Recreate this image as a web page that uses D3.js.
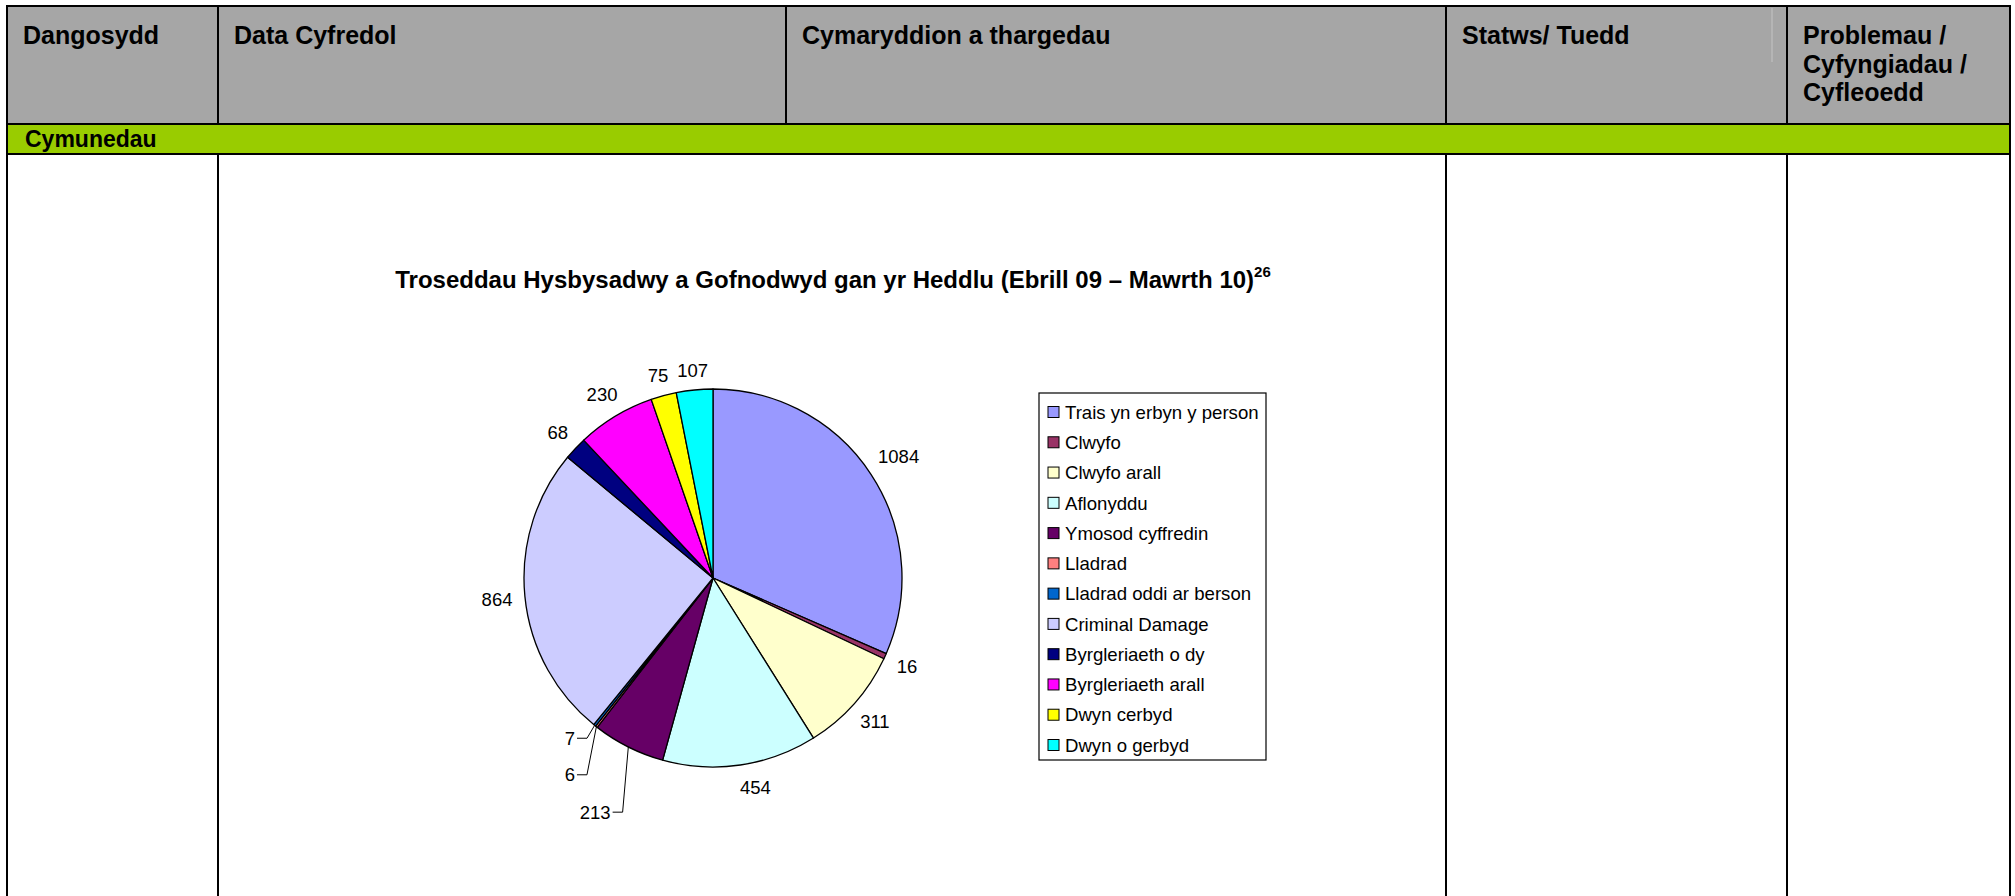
<!DOCTYPE html>
<html>
<head>
<meta charset="utf-8">
<script src="https://cdn.jsdelivr.net/npm/d3@7"></script>
<style>
  body { margin: 0; background: #fff; }
  text { font-family: "Liberation Sans", Arial, sans-serif; }
</style>
</head>
<body>
<div id="page"></div>
<script>
// table headings
var headers = [["Dangosydd"], ["Data Cyfredol"], ["Cymaryddion a thargedau"], ["Statws/ Tuedd"], ["Problemau /", "Cyfyngiadau /", "Cyfleoedd"]]
var section = "Cymunedau"

// chart data
var title = "Troseddau Hysbysadwy a Gofnodwyd gan yr Heddlu (Ebrill 09 – Mawrth 10)"
var footnote = "26"
var categories = ["Trais yn erbyn y person", "Clwyfo", "Clwyfo arall", "Aflonyddu", "Ymosod cyffredin", "Lladrad",
    "Lladrad oddi ar berson", "Criminal Damage", "Byrgleriaeth o dy", "Byrgleriaeth arall", "Dwyn cerbyd", "Dwyn o gerbyd"]
var values = [1084, 16, 311, 454, 213, 6, 7, 864, 68, 230, 75, 107]
var colors = [
    "#9999ff",  //Trais
    "#993366",  //Clwyfo
    "#ffffcc",  //Clwyfo arall
    "#ccffff",  //Aflonyddu
    "#660066",  //Ymosod
    "#ff8080",  //Lladrad
    "#0066cc",  //Lladrad oddi
    "#ccccff",  //Criminal Damage
    "#000080",  //Byrgleriaeth o dy
    "#ff00ff",  //Byrgleriaeth arall
    "#ffff00",  //Dwyn cerbyd
    "#00ffff"   //Dwyn o gerbyd
]

var W = 2015
var H = 896
var colX = [7, 218, 786, 1446, 1787, 2010]   // vertical rules
var top0 = 6, headBottom = 124, greenBottom = 154

var svg = d3.select("#page").append("svg").attr("width", W).attr("height", H)

// ---- table ----
svg.append("rect").attr("x", colX[0]).attr("y", top0).attr("width", colX[5] - colX[0]).attr("height", headBottom - top0).attr("fill", "#a6a6a6")
svg.append("rect").attr("x", colX[0]).attr("y", headBottom).attr("width", colX[5] - colX[0]).attr("height", greenBottom - headBottom).attr("fill", "#99cc00")
svg.append("line").attr("x1", 1772).attr("x2", 1772).attr("y1", 8).attr("y2", 62).attr("stroke", "#c4c4c4").attr("stroke-width", 1)

var rules = svg.append("g").attr("stroke", "#000").attr("stroke-width", 2)
;[top0, headBottom, greenBottom].forEach(function(y){
    rules.append("line").attr("x1", colX[0] - 1).attr("x2", colX[5] + 1).attr("y1", y).attr("y2", y)
})
colX.forEach(function(x, i){
    rules.append("line").attr("x1", x).attr("x2", x).attr("y1", top0).attr("y2", headBottom)
    // the body row merges the 2nd and 3rd columns
    if(i != 2){
        rules.append("line").attr("x1", x).attr("x2", x).attr("y1", greenBottom).attr("y2", H)
    }
})
rules.append("line").attr("x1", colX[0]).attr("x2", colX[0]).attr("y1", headBottom).attr("y2", greenBottom)
rules.append("line").attr("x1", colX[5]).attr("x2", colX[5]).attr("y1", headBottom).attr("y2", greenBottom)

headers.forEach(function(lines, i){
    var t = svg.append("text")
        .attr("x", colX[i] + 16)
        .attr("y", 44)
        .attr("font-size", "25px")
        .attr("font-weight", "bold")
        .attr("fill", "#000")
    lines.forEach(function(l, j){
        t.append("tspan").attr("x", colX[i] + 16).attr("dy", j == 0 ? 0 : 28.5).text(l)
    })
})

svg.append("text")
    .text(section)
    .attr("x", 25)
    .attr("y", 147)
    .attr("font-size", "23px")
    .attr("font-weight", "bold")

// ---- chart title ----
var tt = svg.append("text")
    .attr("x", 833)
    .attr("y", 288)
    .attr("text-anchor", "middle")
    .attr("font-size", "24px")
    .attr("font-weight", "bold")
tt.append("tspan").text(title)
tt.append("tspan").attr("dy", -11).attr("font-size", "15px").text(footnote)

// ---- pie ----
var cx = 713, cy = 578, radius = 189
var pie = d3.pie().sort(null).value(function(d){ return d })
var arc = d3.arc().innerRadius(0).outerRadius(radius)
var slices = pie(values)

var g = svg.append("g").attr("transform", "translate(" + cx + "," + cy + ")")

g.selectAll("path.slice")
    .data(slices)
    .enter()
    .append("path")
    .attr("class", "slice")
    .attr("fill", function(d, i){ return colors[i] })
    .attr("stroke", "#000")
    .attr("stroke-width", 1.3)
    .attr("stroke-linejoin", "round")
    .attr("d", arc)

// labels that excel pushed away from the slice (with a leader line)
var labelNudge = { 3: [12, 2, false], 4: [-22, 43, true], 5: [-14, 32, true], 6: [-12, -3, true] }
var labelSize = 18.5
var capH = labelSize * 0.716

slices.forEach(function(d, i){
    var mid = (d.startAngle + d.endAngle) / 2
    var s = Math.sin(mid), c = Math.cos(mid)
    var t = g.append("text")
        .text(values[i])
        .attr("font-size", labelSize + "px")
        .attr("text-anchor", "middle")
    var w = t.node().getComputedTextLength()
    var ext = (w / 2) * Math.abs(s) + (capH / 2) * Math.abs(c)
    var R = radius + 12 + ext
    var x = R * s, y = -R * c
    var n = labelNudge[i]
    if(n){ x += n[0]; y += n[1] }
    t.attr("x", x).attr("y", y + capH / 2)
    if(n && n[2]){
        var edge = [radius * s, -radius * c]
        var x0 = x + w / 2 + 2
        g.append("polyline")
            .attr("points", [[x0, y], [x0 + 10, y], edge].join(" "))
            .attr("fill", "none")
            .attr("stroke", "#000")
            .attr("stroke-width", 1)
    }
})

// ---- legend ----
var lx = 1039, ly = 393, lw = 227, lh = 367
svg.append("rect").attr("x", lx).attr("y", ly).attr("width", lw).attr("height", lh)
    .attr("fill", "#fff").attr("stroke", "#000").attr("stroke-width", 1.2)

var rowY = d3.scalePoint().domain(categories).range([412, 745])

var items = svg.selectAll("g.legend")
    .data(categories)
    .enter()
    .append("g")
    .attr("class", "legend")
    .attr("transform", function(d){ return "translate(" + (lx + 9) + "," + rowY(d) + ")" })

items.append("rect")
    .attr("x", 0)
    .attr("y", -5.5)
    .attr("width", 11)
    .attr("height", 11)
    .attr("fill", function(d, i){ return colors[i] })
    .attr("stroke", "#000")
    .attr("stroke-width", 1)

items.append("text")
    .text(function(d){ return d })
    .attr("x", 17)
    .attr("y", 6.7)
    .attr("font-size", "18.6px")
</script>
</body>
</html>
